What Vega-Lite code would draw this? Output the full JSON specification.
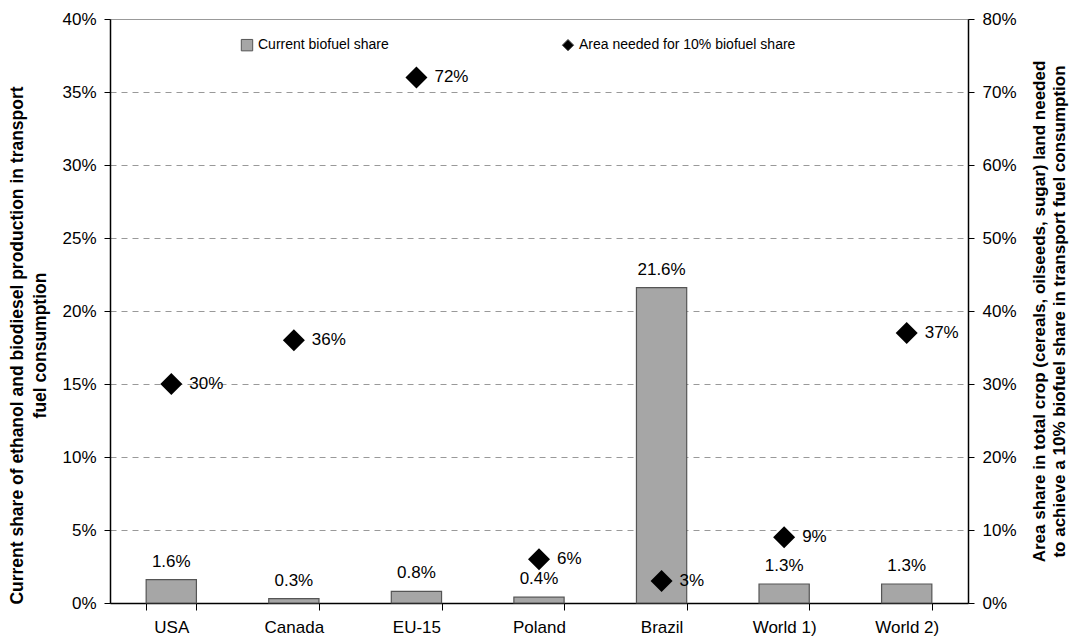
{
  "$schema": "https://vega.github.io/schema/vega-lite/v6.json",
  "width": 858,
  "height": 584,
  "autosize": {"type": "none"},
  "padding": {"left": 110, "top": 19, "right": 101, "bottom": 36},
  "background": "white",
  "config": {
    "font": "Liberation Sans",
    "view": {"stroke": "#999999", "strokeWidth": 1},
    "axis": {"labelFont": "Liberation Sans", "titleFont": "Liberation Sans", "labelFontSize": 17, "labelColor": "#000", "titleColor": "#000", "domainColor": "#000", "tickColor": "#000"}
  },
  "data": {
    "values": [
      {"country": "USA", "share": 1.6, "area": 30},
      {"country": "Canada", "share": 0.3, "area": 36},
      {"country": "EU-15", "share": 0.8, "area": 72},
      {"country": "Poland", "share": 0.4, "area": 6},
      {"country": "Brazil", "share": 21.6, "area": 3},
      {"country": "World 1)", "share": 1.3, "area": 9},
      {"country": "World 2)", "share": 1.3, "area": 37}
    ]
  },
  "encoding": {
    "x": {
      "field": "country", "type": "nominal", "sort": null,
      "scale": {"paddingInner": 0.59, "paddingOuter": 0.295},
      "axis": {"title": null, "labelAngle": 0, "tickBand": "extent", "tickSize": 7, "labelPadding": 9, "domainWidth": 1.5}
    }
  },
  "layer": [
    {
      "layer": [
        {
          "mark": {"type": "bar", "stroke": "#555555", "strokeWidth": 1.2},
          "encoding": {
            "y": {
              "field": "share", "type": "quantitative",
              "scale": {"domain": [0, 40], "nice": false},
              "axis": {
                "values": [0, 5, 10, 15, 20, 25, 30, 35, 40],
                "labelExpr": "datum.value + '%'",
                "grid": true, "gridDash": [6, 5], "gridColor": "#999999",
                "tickSize": 6, "domainWidth": 1.5, "labelPadding": 8,
                "title": ["Current share of ethanol and biodiesel production in transport", "fuel consumption"],
                "titleFontSize": 17.5, "titleFontWeight": "bold", "titlePadding": 12, "titleLineHeight": 23, "titleY": 326
              }
            },
            "fill": {
              "datum": "Current biofuel share",
              "type": "nominal",
              "scale": {"domain": ["Current biofuel share", "Area needed for 10% biofuel share"], "range": ["#a6a6a6", "#000000"]},
              "legend": {
                "title": null, "orient": "none", "direction": "horizontal",
                "legendX": 130, "legendY": 19, "labelFontSize": 14, "labelFont": "Liberation Sans", "labelLimit": 400,
                "columnPadding": 171, "symbolSize": 130, "symbolStrokeColor": "#555555", "symbolStrokeWidth": 1
              }
            }
          }
        },
        {
          "mark": {"type": "text", "dy": -18, "fontSize": 17, "font": "Liberation Sans", "color": "#000", "text": {"expr": "format(datum.share, '.1f') + '%'"}},
          "encoding": {
            "y": {"field": "share", "type": "quantitative", "scale": {"domain": [0, 40], "nice": false}}
          }
        }
      ]
    },
    {
      "layer": [
        {
          "mark": {"type": "point", "filled": true, "size": 484, "opacity": 1},
          "encoding": {
            "y": {
              "field": "area", "type": "quantitative",
              "scale": {"domain": [0, 80], "nice": false},
              "axis": {
                "orient": "right",
                "values": [0, 10, 20, 30, 40, 50, 60, 70, 80],
                "labelExpr": "datum.value + '%'",
                "grid": false, "tickSize": 6, "domainWidth": 1.5, "labelPadding": 8,
                "title": ["Area share in total crop (cereals, oilseeds, sugar) land needed", "to achieve a 10% biofuel share in transport fuel consumption"],
                "titleFontSize": 17, "titleFontWeight": "bold", "titlePadding": 12, "titleAngle": -90, "titleLineHeight": 20
              }
            },
            "fill": {"datum": "Area needed for 10% biofuel share", "type": "nominal"},
            "shape": {
              "datum": "Area needed for 10% biofuel share", "type": "nominal",
              "scale": {"domain": ["Current biofuel share", "Area needed for 10% biofuel share"], "range": ["square", "diamond"]}
            }
          }
        },
        {
          "mark": {"type": "text", "align": "left", "dx": 18, "fontSize": 17, "font": "Liberation Sans", "color": "#000", "text": {"expr": "datum.area + '%'"}},
          "encoding": {
            "y": {"field": "area", "type": "quantitative", "scale": {"domain": [0, 80], "nice": false}}
          }
        }
      ]
    }
  ],
  "resolve": {"scale": {"y": "independent"}}
}
